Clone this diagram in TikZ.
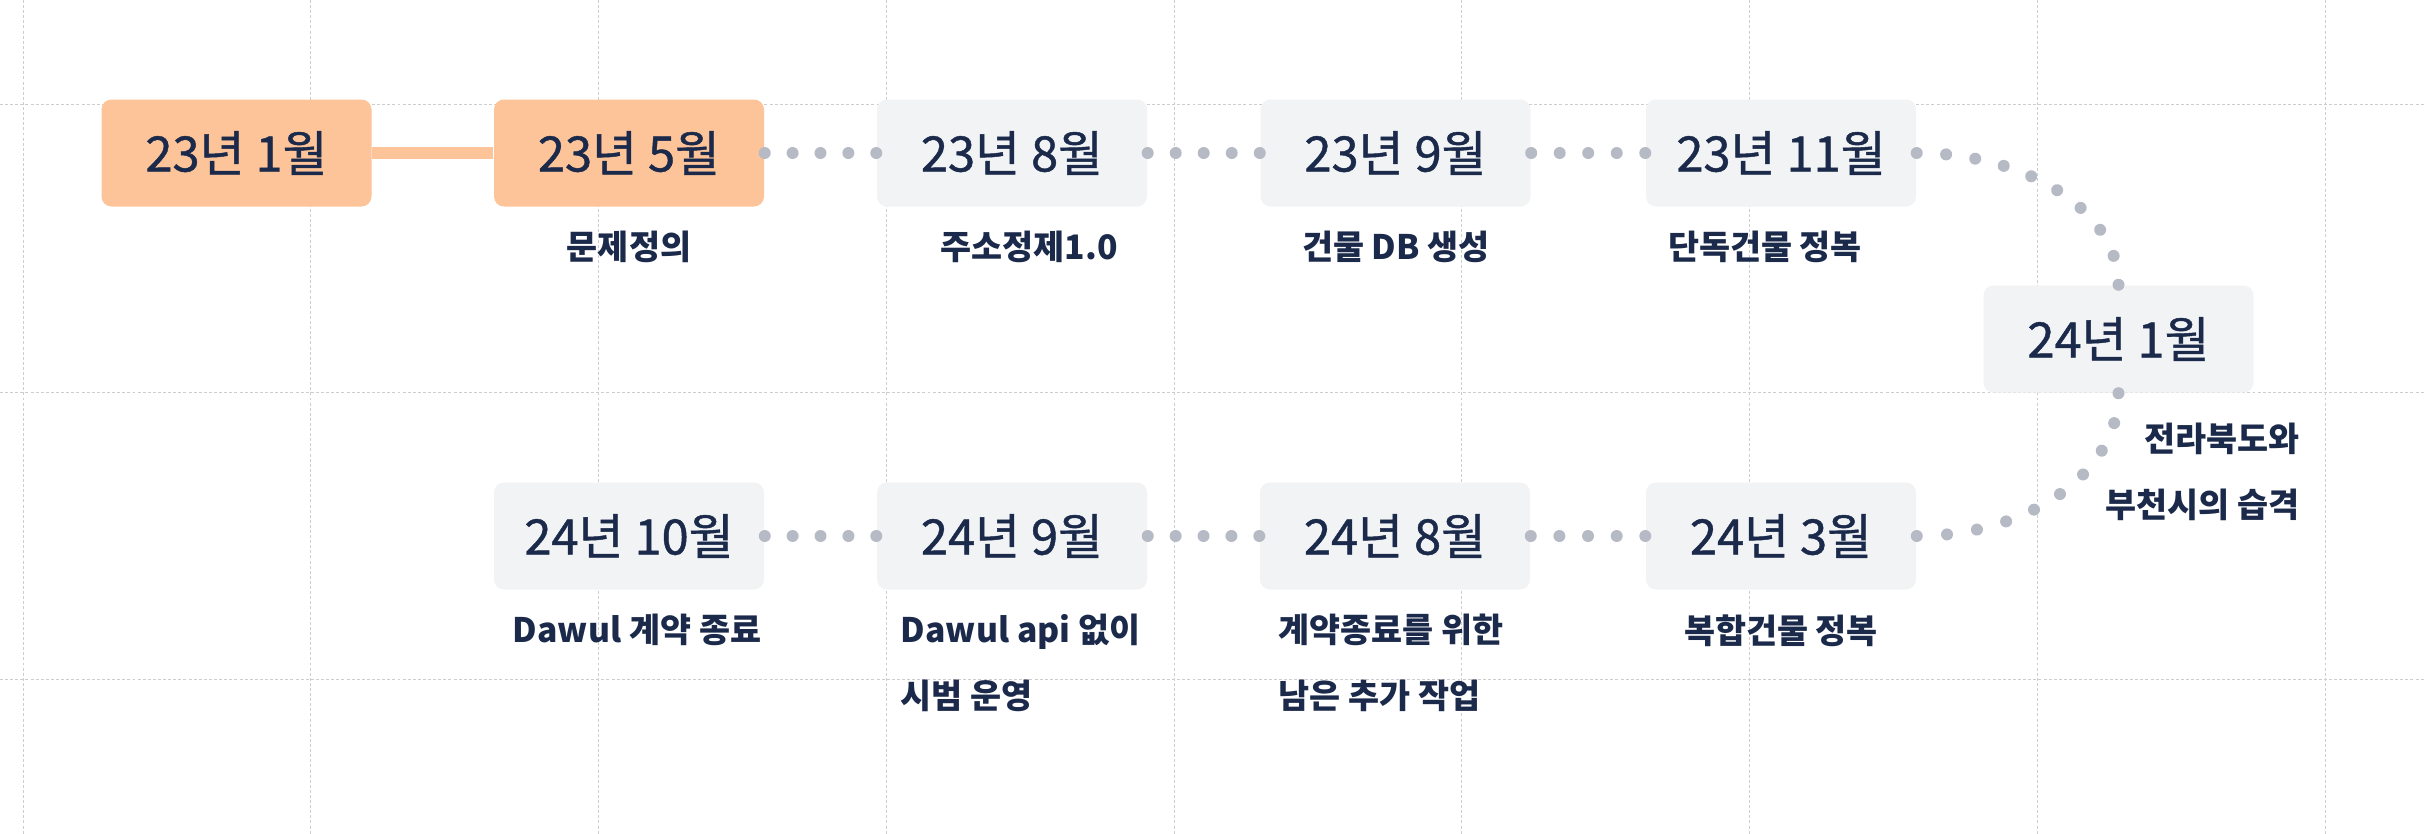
\documentclass[tikz,border=0pt]{standalone}
\usepackage{fontspec}
\setmainfont{Noto Sans CJK KR}
\newfontfamily\datefont{Noto Sans CJK KR}[FakeBold=0.9]
\usepackage{tikz}
\usetikzlibrary{calc, decorations.markings}

\definecolor{peach}{HTML}{FDC499}
\definecolor{boxgray}{HTML}{F1F3F5}
\definecolor{navy}{HTML}{1B2A4A}
\definecolor{dotgray}{HTML}{B6BAC5}
\definecolor{gridgray}{HTML}{CDCDCD}

\tikzset{
    datebox/.style={rounded corners=0.1cm, minimum width=2.7cm, minimum height=1.07cm, fill=boxgray, text=navy, font=\datefont\fontsize{13.9}{16}\selectfont},
    donebox/.style={datebox, fill=peach},
    note/.style={text=navy, font=\bfseries\fontsize{9.6}{18.8}\selectfont, inner sep=0pt},
    gridline/.style={gridgray, line width=0.28pt, dash pattern=on 0.85pt off 0.6pt},
    dotline/.style={decorate, decoration={markings, mark=between positions 0 and 1 step #1 with {\fill[dotgray] circle (0.06);}}},
    dotline/.default=0.2499
}

\begin{document}
\begin{tikzpicture}
    \useasboundingbox (0,0) rectangle (24.24,-8.34);
    \fill[white] (0,0) rectangle (24.24,-8.34);
    % grid
    \foreach \gx in {0,...,8} \draw[gridline] (0.23+2.8775*\gx,0)--(0.23+2.8775*\gx,-8.34);
    \foreach \gy in {-1.04,-3.92,-6.79} \draw[gridline] (0,\gy)--(24.24,\gy);
    % dates
    \node[donebox] (n1) at (2.365,-1.53) {23년 1월};
    \node[donebox] (n2) at (6.29,-1.53) {23년 5월};
    \node[datebox] (n3) at (10.12,-1.53) {23년 8월};
    \node[datebox] (n4) at (13.955,-1.53) {23년 9월};
    \node[datebox] (n5) at (17.81,-1.53) {23년 11월};
    \node[datebox] (n6) at (21.185,-3.39) {24년 1월};
    \node[datebox] (n7) at (17.81,-5.36) {24년 3월};
    \node[datebox] (n8) at (13.95,-5.36) {24년 8월};
    \node[datebox] (n9) at (10.12,-5.36) {24년 9월};
    \node[datebox] (n10) at (6.29,-5.36) {24년 10월};
    % connectors
    \draw[peach, line width=0.12cm](n1.east)--(n2.west);
    \path[dotline](n2.east)--(n3.west);
    \path[dotline](n3.east)--(n4.west);
    \path[dotline](n4.east)--(n5.west);
    \path[dotline=0.1111](n5.east) .. controls +(1.11,0) and +(0,0.73) .. (n6.north);
    \path[dotline=0.1111](n6.south) .. controls +(0,-0.8) and +(1.11,0) .. (n7.east);
    \path[dotline](n7.west)--(n8.east);
    \path[dotline](n8.west)--(n9.east);
    \path[dotline](n9.west)--(n10.east);
    % notes
    \node[note] (t2) at (6.29,-2.47) {문제정의};
    \node[note] (t3) at (10.29,-2.47) {주소정제1.0};
    \node[note] (t4) at (13.96,-2.47) {건물 DB 생성};
    \node[note] (t5) at (17.65,-2.47) {단독건물 정복};
    \node[note, align=right, anchor=east] (t6) at (23.00,-4.72) {전라북도와\\부천시의 습격};
    \node[note] (t7) at (17.81,-6.31) {복합건물 정복};
    \node[note, align=left, anchor=west] (t8) at (12.78,-6.63) {계약종료를 위한\\남은 추가 작업};
    \node[note, align=left, anchor=west] (t9) at (9.00,-6.63) {Dawul api 없이\\시범 운영};
    \node[note] (t10) at (6.37,-6.30) {Dawul 계약 종료};
\end{tikzpicture}
\end{document}
